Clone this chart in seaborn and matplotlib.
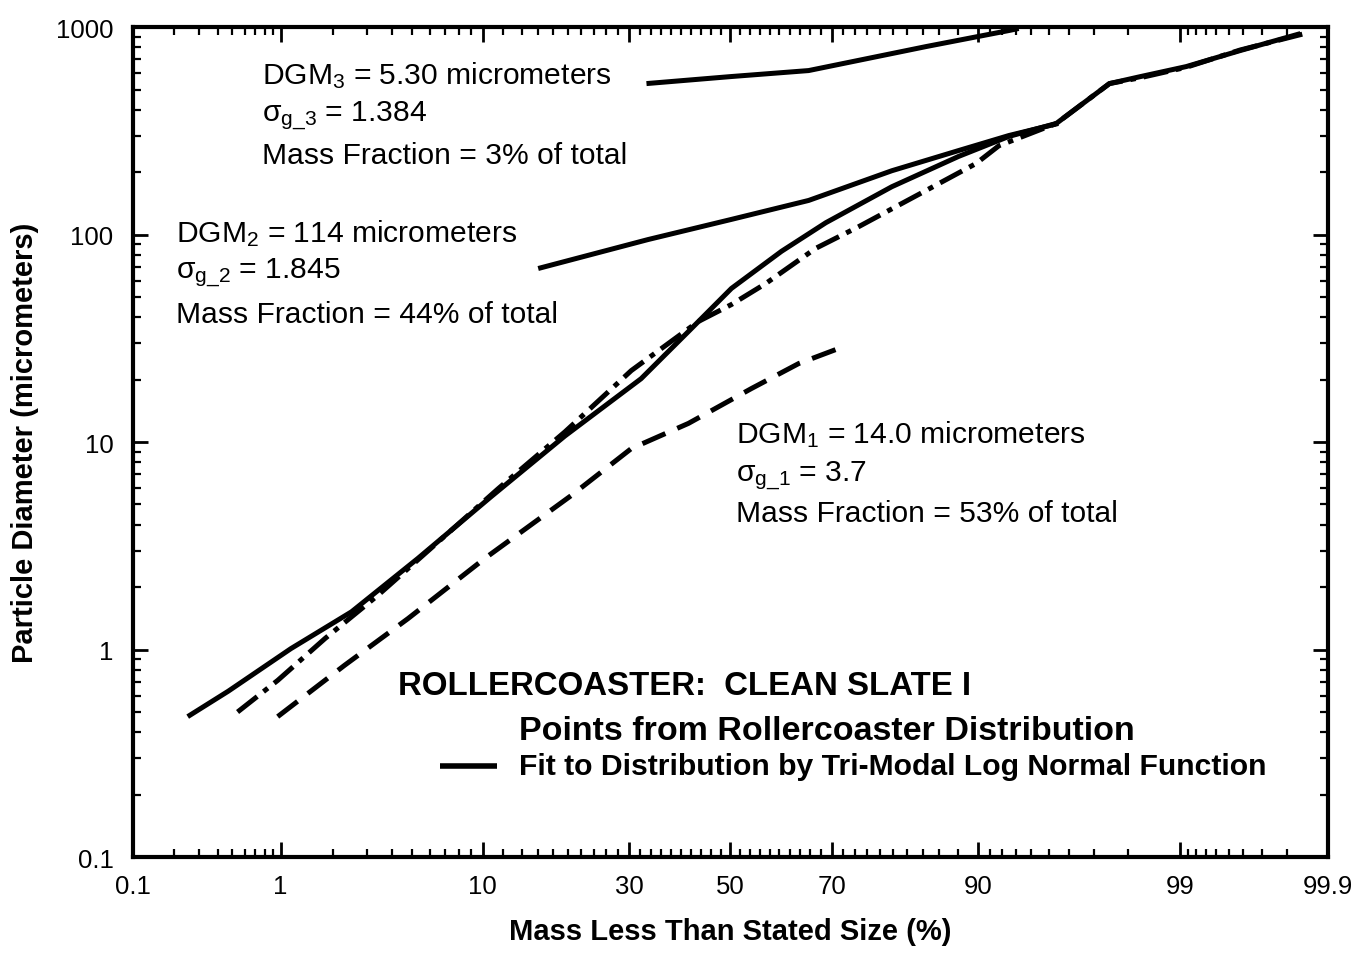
import numpy as np
import pandas as pd
import matplotlib
matplotlib.use("Agg")
import matplotlib.pyplot as plt
import seaborn as sns
from statistics import NormalDist

# ---------------- data ----------------
fit_pct = [0.25, 0.47, 1.15, 2.5, 5.3, 10.8, 19.6, 32.2, 41.4, 50.2, 60.4, 68.9,
           79.8, 88.1, 92.5, 95.4, 97.5, 98.3, 99.08, 99.58, 99.84]
fit_diam = [0.475, 0.63, 1.01, 1.52, 2.75, 5.46, 10.7, 20.2, 34.1, 55, 83, 114,
            170, 238, 297, 343, 534, 577, 645, 770, 930]

pts_pct = [0.54, 0.96, 1.8, 3.4, 11.5, 19.6, 30.4, 43.4, 50.2, 57.2, 67.0, 74.6,
           84.4, 89.8, 91.75, 95.4, 97.5, 98.3, 99.08, 99.58, 99.86]
pts_diam = [0.50, 0.71, 1.13, 1.82, 5.97, 11.2, 22.1, 38.1, 46, 58, 85.7, 109,
            163, 220, 268, 343, 534, 570, 640, 775, 940]

mode1_pct = [0.96, 2.3, 4.77, 10.2, 20.5, 30.4, 41.4, 54.3, 63.8, 72.6]
mode1_diam = [0.475, 0.84, 1.41, 2.75, 5.52, 9.3, 12.3, 18.1, 23.9, 29.2]

mode2_pct = [16.0, 33.5, 50.0, 65.7, 79.8, 88.1, 92.5, 95.5]
mode2_diam = [68.6, 94.6, 118, 146, 203, 254, 300, 343]

mode3_pct = [33.2, 50.0, 65.7, 84.4, 92.5, 93.2]
mode3_diam = [534, 577, 617, 805, 962, 984]

x_ticks = [0.1, 1, 10, 30, 50, 70, 90, 99, 99.9]
x_tick_labels = ["0.1", "1", "10", "30", "50", "70", "90", "99", "99.9"]
x_minor = ([0.2, 0.3, 0.4, 0.5, 0.6, 0.7, 0.8, 0.9] + list(range(2, 10))
           + [v for v in range(12, 90, 2) if v not in (30, 50, 70)]
           + list(range(91, 99)) + [99.1, 99.2, 99.3, 99.4, 99.5, 99.6, 99.7, 99.8])
y_ticks = [0.1, 1, 10, 100, 1000]
y_tick_labels = ["0.1", "1", "10", "100", "1000"]

# ---------------- style ----------------
sns.set_style("ticks")
plt.rcParams["font.family"] = ["Liberation Sans", "DejaVu Sans"]
plt.rcParams["text.color"] = "black"
plt.rcParams["axes.labelcolor"] = "black"
plt.rcParams["xtick.color"] = "black"
plt.rcParams["ytick.color"] = "black"
plt.rcParams["mathtext.fontset"] = "custom"
plt.rcParams["mathtext.rm"] = "Liberation Sans"
plt.rcParams["mathtext.it"] = "Liberation Sans"
plt.rcParams["mathtext.bf"] = "Liberation Sans:bold"

nd = NormalDist()


def fwd(p):
    p = np.clip(np.asarray(p, dtype=float) / 100.0, 1e-9, 1 - 1e-9)
    return np.vectorize(nd.inv_cdf)(p)


def inv(z):
    z = np.asarray(z, dtype=float)
    return np.vectorize(nd.cdf)(z) * 100.0


fig = plt.figure(figsize=(13.58, 9.54), dpi=100)
ax = fig.add_axes([0.0979, 0.1006, 0.8800, 0.8700])

lw = 3.6
series = [
    (fit_pct, fit_diam, None),
    (pts_pct, pts_diam, (5, 1.6, 1.1, 1.6)),
    (mode1_pct, mode1_diam, (5, 2.6)),
    (mode2_pct, mode2_diam, None),
    (mode3_pct, mode3_diam, None),
]
for xs, ys, dashes in series:
    df = pd.DataFrame({"pct": xs, "diam": ys})
    sns.lineplot(data=df, x="pct", y="diam", sort=False, estimator=None, ax=ax,
                 color="black", linewidth=lw, solid_capstyle="butt",
                 dash_capstyle="butt", solid_joinstyle="round")
    if dashes is not None:
        ax.lines[-1].set_dashes(dashes)

ax.set_xscale("function", functions=(fwd, inv))
ax.set_yscale("log")
ax.set_xlim(0.1, 99.9)
ax.set_ylim(0.1, 1000)

ax.set_xticks(x_ticks)
ax.set_xticklabels(x_tick_labels)
ax.set_xticks(x_minor, minor=True)
ax.set_yticks(y_ticks)
ax.set_yticklabels(y_tick_labels)
ax.yaxis.set_minor_locator(matplotlib.ticker.LogLocator(base=10, subs=np.arange(2, 10)))
ax.yaxis.set_minor_formatter(matplotlib.ticker.NullFormatter())

ax.tick_params(which="both", direction="in", top=True, right=True, color="black",
               labelcolor="black", labelsize=18.5)
ax.tick_params(axis="x", which="major", pad=12)
ax.tick_params(axis="y", which="major", pad=14)
ax.tick_params(which="major", length=11, width=2)
ax.tick_params(which="minor", length=6, width=1.6)
for s in ax.spines.values():
    s.set_linewidth(3)
    s.set_color("black")

ax.set_xlabel("Mass Less Than Stated Size (%)", fontsize=21, fontweight="bold", labelpad=14)
ax.set_ylabel("Particle Diameter (micrometers)", fontsize=21, fontweight="bold", labelpad=12)

tf = ax.transAxes
fs = 21.6
ax.text(0.108, 0.943, r"DGM$_3$ = 5.30 micrometers", transform=tf, fontsize=fs, va="center")
ax.text(0.108, 0.894, r"σ$_{\mathrm{g\_3}}$ = 1.384", transform=tf, fontsize=fs, va="center")
ax.text(0.108, 0.846, "Mass Fraction = 3% of total", transform=tf, fontsize=fs, va="center")

ax.text(0.036, 0.752, r"DGM$_2$ = 114 micrometers", transform=tf, fontsize=fs, va="center")
ax.text(0.036, 0.704, r"σ$_{\mathrm{g\_2}}$ = 1.845", transform=tf, fontsize=fs, va="center")
ax.text(0.036, 0.654, "Mass Fraction = 44% of total", transform=tf, fontsize=fs, va="center")

ax.text(0.505, 0.510, r"DGM$_1$ = 14.0 micrometers", transform=tf, fontsize=fs, va="center")
ax.text(0.505, 0.460, r"σ$_{\mathrm{g\_1}}$ = 3.7", transform=tf, fontsize=fs, va="center")
ax.text(0.505, 0.414, "Mass Fraction = 53% of total", transform=tf, fontsize=fs, va="center")

ax.text(0.222, 0.207, "ROLLERCOASTER:  CLEAN SLATE I", transform=tf, fontsize=23.8,
        fontweight="bold", va="center")
ax.text(0.323, 0.152, "Points from Rollercoaster Distribution", transform=tf, fontsize=24.5,
        fontweight="bold", va="center")
ax.text(0.323, 0.110, "Fit to Distribution by Tri-Modal Log Normal Function", transform=tf,
        fontsize=21.7, fontweight="bold", va="center")
ax.plot([0.257, 0.305], [0.110, 0.110], transform=tf, color="black", linewidth=4,
        solid_capstyle="butt")

fig.savefig("out.png", dpi=100)
